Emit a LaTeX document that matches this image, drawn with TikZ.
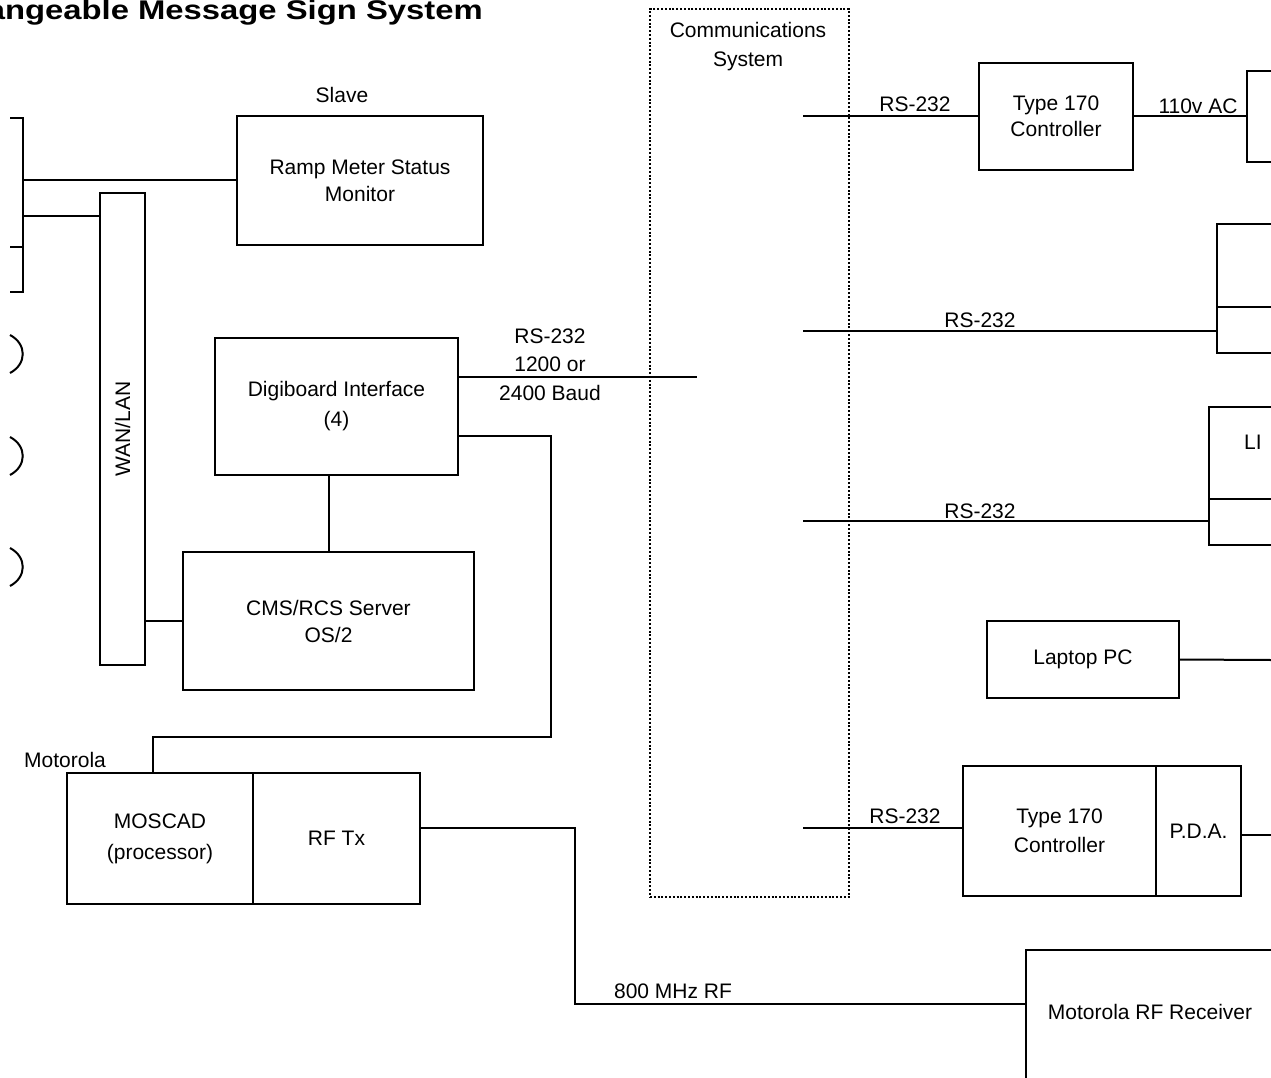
\documentclass[tikz,border=0pt]{standalone}
\usepackage{fontspec}
\setmainfont{Liberation Sans}
\usetikzlibrary{positioning}
\usetikzlibrary{calc}

\begin{document}
\begin{tikzpicture}[x=1pt,y=-1pt,
  box/.style={draw, line width=2pt, inner sep=0pt, outer sep=0pt, align=center,
              font=\fontsize{21}{27}\selectfont},
  lbl/.style={inner sep=0pt, align=center, font=\fontsize{21}{27}\selectfont},
  ttl/.style={inner sep=0pt, font=\fontsize{27}{32}\selectfont\bfseries},
  wire/.style={line width=2pt},
  commsbox/.style={draw, line width=2pt, dash pattern=on 2pt off 1.8pt, inner sep=0pt, outer sep=0pt}]

\useasboundingbox (0,0) rectangle (1271,1078);
\clip (0,0) rectangle (1271,1078);

%---------------------------------------
% Title
%---------------------------------------
\node[ttl, anchor=base east, xscale=1.215, transform shape] (title) at (483,20)
  {angeable Message Sign System};

%---------------------------------------
% Left side: bus, WAN/LAN, servers
%---------------------------------------
\coordinate (bus) at (23,178);
\coordinate (tapwan) at (23,216);
\draw[wire] (10,118) -- (23,118) -- (23,292) -- (10,292);
\draw[wire] (10,247) -- (23,247);

% cut-off sites on the left edge
\foreach \yc in {354,456,567}
  \draw[wire] (10,\yc-19) .. controls (27,\yc-10) and (27,\yc+10) .. (10,\yc+19);

\node[box, minimum width=246, minimum height=129] (ramp) at (360,180.5)
  {Ramp Meter Status\\Monitor};
\node[lbl] (slave) at (342,95) {Slave};

\node[box, minimum width=45, minimum height=472] (wan) at (122.5,429) {};
\node[lbl, rotate=90] (wanlbl) at (wan) {WAN/LAN};

\node[box, minimum width=243, minimum height=137, font=\fontsize{21}{30}\selectfont]
  (digi) at (336.5,406.5) {Digiboard Interface\\(4)};
\node[box, minimum width=291, minimum height=138] (cms) at (328.5,621)
  {CMS/RCS Server\\OS/2};

\node[box, minimum width=186, minimum height=131, font=\fontsize{21}{30}\selectfont]
  (moscad) at (160,838.5) {MOSCAD\\[1pt](processor)};
\node[box, minimum width=167, minimum height=131, anchor=west] (rftx)
  at (moscad.east) {RF Tx};
\node[lbl] (motorola) at (65,760) {Motorola};

\draw[wire] (bus |- ramp.west) -- (ramp.west);
\draw[wire] (tapwan) -- (tapwan -| wan.west);
\draw[wire] (cms.west -| wan.east) -- (cms.west);
\draw[wire] (cms.north) -- (cms.north |- digi.south);

% serial line into the comms system
\coordinate (rsend) at (697,377);
\draw[wire] ([yshift=29.5pt]digi.east) -- (rsend);
\node[lbl, font=\fontsize{21}{28.5}\selectfont] (rsbaud) at (550,364.5)
  {RS-232\\1200 or\\2400 Baud};

% link down to the MOSCAD unit
\draw[wire] ([yshift=-29.5pt]digi.east) -| (551,737) -| ([xshift=-7pt]moscad.north);

%---------------------------------------
% Communications system
%---------------------------------------
\node[commsbox, minimum width=199, minimum height=888] (comms) at (749.5,453) {};
\node[lbl, font=\fontsize{21}{29}\selectfont] (commslbl) at (748,47)
  {Communications\\System};

%---------------------------------------
% Right side: field devices
%---------------------------------------
\node[box, minimum width=154, minimum height=107, font=\fontsize{21}{26}\selectfont]
  (ctrltop) at (1056,116.5) {Type 170\\Controller};
\node[box, anchor=north west, minimum width=80, minimum height=91] (acbox) at (1247,71) {};

\node[box, anchor=north west, minimum width=80, minimum height=129] (signa) at (1217,224) {};
\draw[wire] (signa.west |- 0,307) -- (signa.east |- 0,307);

\node[box, anchor=north west, minimum width=80, minimum height=138] (signb) at (1209,407) {};
\draw[wire] (signb.west |- 0,499) -- (signb.east |- 0,499);
\node[lbl, anchor=west] (signblbl) at (1244,442) {LI};

\node[box, minimum width=192, minimum height=77] (laptop) at (1083,659.5) {Laptop PC};
\coordinate (laptopout) at (1271,660);

\node[box, minimum width=193, minimum height=130, font=\fontsize{21}{29}\selectfont]
  (ctrlbot) at (1059.5,831) {Type 170\\Controller};
\node[box, minimum width=85, minimum height=130, anchor=west] (pda) at (ctrlbot.east) {P.D.A.};
\coordinate (pdaout) at (1271,835);

\node[box, anchor=north west, minimum width=300, minimum height=200] (rfrx) at (1026,950) {};
\node[lbl] (rfrxlbl) at (1150,1012) {Motorola RF Receiver};
\coordinate (rfin) at (1026,1004);

% RS-232 links out of the comms system
\coordinate (c1) at (803,116.5);
\coordinate (c2) at (803,331);
\coordinate (c3) at (803,521);
\coordinate (c4) at (803,828);
\draw[wire] (c1) -- (ctrltop.west);
\draw[wire] (c2) -- (c2 -| signa.west);
\draw[wire] (c3) -- (c3 -| signb.west);
\draw[wire] (c4) -- (c4 -| ctrlbot.west);
\node[lbl] (rs1) at (915,104) {RS-232};
\node[lbl] (rs2) at (980,320) {RS-232};
\node[lbl] (rs3) at (980,511) {RS-232};
\node[lbl] (rs4) at (905,816) {RS-232};

\draw[wire] (ctrltop.east) -- (acbox.west);
\node[lbl] (ac) at (1198,106) {110v AC};

\draw[wire] (laptop.east) -- (laptopout);
\draw[wire] ([yshift=-4pt]pda.east) -- (pdaout);

% RF path
\draw[wire] ([yshift=10.5pt]rftx.east) -| (575,1004) -- (rfin);
\node[lbl] (rf) at (673,991) {800 MHz RF};

\end{tikzpicture}
\end{document}
